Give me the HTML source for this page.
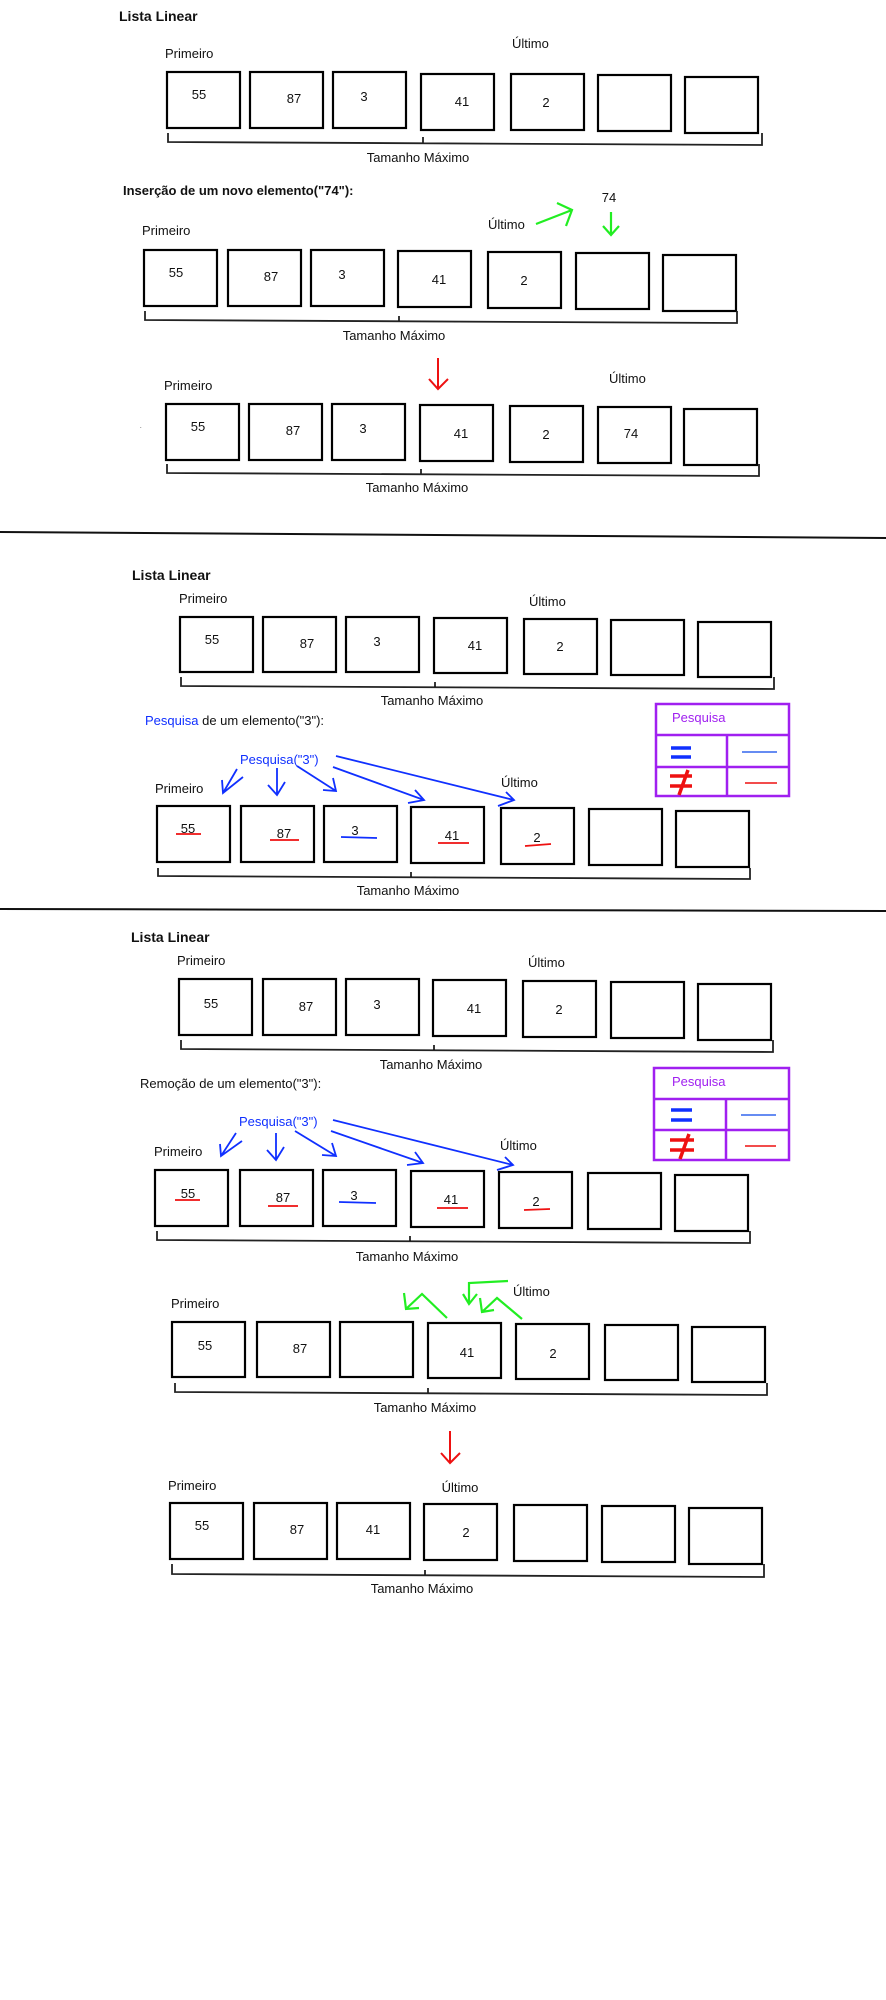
<!DOCTYPE html>
<html><head><meta charset="utf-8"><style>
html,body{margin:0;padding:0;background:#fff;}
svg{display:block;}
text{font-family:"Liberation Sans",sans-serif;font-size:13px;fill:#111;}
.b{font-weight:bold;}
.c{text-anchor:middle;}
rect{fill:none;stroke:#000;stroke-width:2.2;}
.br{fill:none;stroke:#222;stroke-width:1.8;}
.bl{fill:none;stroke:#1030ff;stroke-width:1.8;}
.gr{fill:none;stroke:#22ee22;stroke-width:2.2;}
.rd{fill:none;stroke:#ee1111;stroke-width:2;}
.pu{fill:none;stroke:#a020f0;stroke-width:2.5;}
</style></head><body>
<svg width="886" height="2000" viewBox="0 0 886 2000" xmlns="http://www.w3.org/2000/svg">
<!-- Section 1 -->
<text x="119" y="21" class="b" style="font-size:14px">Lista Linear</text>
<text x="165" y="58">Primeiro</text>
<text x="512" y="48">Último</text>
<rect x="167" y="72" width="73" height="56"/><rect x="250" y="72" width="73" height="56"/><rect x="333" y="72" width="73" height="56"/><rect x="421" y="74" width="73" height="56"/><rect x="511" y="74" width="73" height="56"/><rect x="598" y="75" width="73" height="56"/><rect x="685" y="77" width="73" height="56"/>
<text x="199" y="99" class="c">55</text><text x="294" y="103" class="c">87</text><text x="364" y="101" class="c">3</text><text x="462" y="106" class="c">41</text><text x="546" y="107" class="c">2</text>
<path class="br" d="M168 133 V142 L762 145 V133 M423 144 V137"/>
<text x="418" y="162" class="c">Tamanho Máximo</text>

<text x="123" y="195" class="b" style="font-size:13px">Inserção de um novo elemento("74"):</text>
<text x="609" y="202" class="c">74</text>
<text x="488" y="229">Último</text>
<text x="142" y="235">Primeiro</text>
<path class="gr" d="M536 224 L572 210 M557 203 L572 210 L566 226 M611 212 V234 M603 226 L611 235 L619 226"/>
<rect x="144" y="250" width="73" height="56"/><rect x="228" y="250" width="73" height="56"/><rect x="311" y="250" width="73" height="56"/><rect x="398" y="251" width="73" height="56"/><rect x="488" y="252" width="73" height="56"/><rect x="576" y="253" width="73" height="56"/><rect x="663" y="255" width="73" height="56"/>
<text x="176" y="277" class="c">55</text><text x="271" y="281" class="c">87</text><text x="342" y="279" class="c">3</text><text x="439" y="284" class="c">41</text><text x="524" y="285" class="c">2</text>
<path class="br" d="M145 311 V320 L737 323 V311 M399 322 V316"/>
<text x="394" y="340" class="c">Tamanho Máximo</text>

<path class="rd" d="M438 358 V389 M429 379 L438 389 L448 379"/>
<text x="164" y="390">Primeiro</text>
<text x="609" y="383">Último</text>
<text x="140" y="428" style="font-size:6px">.</text>
<rect x="166" y="404" width="73" height="56"/><rect x="249" y="404" width="73" height="56"/><rect x="332" y="404" width="73" height="56"/><rect x="420" y="405" width="73" height="56"/><rect x="510" y="406" width="73" height="56"/><rect x="598" y="407" width="73" height="56"/><rect x="684" y="409" width="73" height="56"/>
<text x="198" y="431" class="c">55</text><text x="293" y="435" class="c">87</text><text x="363" y="433" class="c">3</text><text x="461" y="438" class="c">41</text><text x="546" y="439" class="c">2</text><text x="631" y="438" class="c">74</text>
<path class="br" d="M167 464 V473 L759 476 V464 M421 475 V469"/>
<text x="417" y="492" class="c">Tamanho Máximo</text>

<path d="M0 532 L886 538" stroke="#111" stroke-width="2" fill="none"/>

<!-- Section 2 -->
<text x="132" y="580" class="b" style="font-size:14px">Lista Linear</text>
<text x="179" y="603">Primeiro</text>
<text x="529" y="606">Último</text>
<rect x="180" y="617" width="73" height="55"/><rect x="263" y="617" width="73" height="55"/><rect x="346" y="617" width="73" height="55"/><rect x="434" y="618" width="73" height="55"/><rect x="524" y="619" width="73" height="55"/><rect x="611" y="620" width="73" height="55"/><rect x="698" y="622" width="73" height="55"/>
<text x="212" y="644" class="c">55</text><text x="307" y="648" class="c">87</text><text x="377" y="646" class="c">3</text><text x="475" y="650" class="c">41</text><text x="560" y="651" class="c">2</text>
<path class="br" d="M181 677 V686 L774 689 V677 M435 688 V682"/>
<text x="432" y="705" class="c">Tamanho Máximo</text>

<text x="145" y="725"><tspan style="fill:#1030ff">Pesquisa</tspan> de um elemento("3"):</text>
<rect x="656" y="704" width="133" height="92" style="stroke:#a020f0;stroke-width:2.5"/>
<path class="pu" d="M656 735 H789 M656 767 H789 M727 735 V796"/>
<text x="672" y="722" style="fill:#a020f0">Pesquisa</text>
<path d="M671 748 H691 M671 757 H691" stroke="#1030ff" stroke-width="3.5"/>
<path d="M742 752 H777" stroke="#3366ee" stroke-width="1.5"/>
<path d="M670 776 H692 M670 786 H692 M688 770 L679 795" stroke="#ee1111" stroke-width="3.5"/>
<path d="M745 783 H777" stroke="#ee1111" stroke-width="1.5"/>
<text x="240" y="764" style="fill:#1030ff">Pesquisa("3")</text>
<text x="155" y="793">Primeiro</text>
<text x="501" y="787">Último</text>
<path class="bl" d="M237 769 L223 793 M222 780 L223 793 L243 777 M277 768 V795 M268 785 L277 795 L285 782 M297 766 L336 791 M333 778 L336 791 L323 790 M333 767 L424 800 M415 790 L424 800 L408 803 M336 756 L514 800 M506 792 L514 800 L498 806"/>
<rect x="157" y="806" width="73" height="56"/><rect x="241" y="806" width="73" height="56"/><rect x="324" y="806" width="73" height="56"/><rect x="411" y="807" width="73" height="56"/><rect x="501" y="808" width="73" height="56"/><rect x="589" y="809" width="73" height="56"/><rect x="676" y="811" width="73" height="56"/>
<text x="188" y="833" class="c">55</text><text x="284" y="838" class="c">87</text><text x="355" y="835" class="c">3</text><text x="452" y="840" class="c">41</text><text x="537" y="842" class="c">2</text>
<path class="rd" d="M176 834 H201 M270 840 H299 M438 843 H469 M525 846 L551 844" style="stroke-width:1.8"/>
<path d="M341 837 L377 838" stroke="#1030ff" stroke-width="1.8"/>
<path class="br" d="M158 868 V876 L750 879 V868 M411 878 V872"/>
<text x="408" y="895" class="c">Tamanho Máximo</text>

<path d="M0 909 L886 911" stroke="#111" stroke-width="2" fill="none"/>

<!-- Section 3 -->
<text x="131" y="942" class="b" style="font-size:14px">Lista Linear</text>
<text x="177" y="965">Primeiro</text>
<text x="528" y="967">Último</text>
<rect x="179" y="979" width="73" height="56"/><rect x="263" y="979" width="73" height="56"/><rect x="346" y="979" width="73" height="56"/><rect x="433" y="980" width="73" height="56"/><rect x="523" y="981" width="73" height="56"/><rect x="611" y="982" width="73" height="56"/><rect x="698" y="984" width="73" height="56"/>
<text x="211" y="1008" class="c">55</text><text x="306" y="1011" class="c">87</text><text x="377" y="1009" class="c">3</text><text x="474" y="1013" class="c">41</text><text x="559" y="1014" class="c">2</text>
<path class="br" d="M181 1040 V1049 L773 1052 V1040 M434 1051 V1045"/>
<text x="431" y="1069" class="c">Tamanho Máximo</text>
<text x="140" y="1088">Remoção de um elemento("3"):</text>
<rect x="654" y="1068" width="135" height="92" style="stroke:#a020f0;stroke-width:2.5"/>
<path class="pu" d="M654 1099 H789 M654 1130 H789 M726 1099 V1160"/>
<text x="672" y="1086" style="fill:#a020f0">Pesquisa</text>
<path d="M671 1110 H692 M671 1120 H692" stroke="#1030ff" stroke-width="3.5"/>
<path d="M741 1115 H776" stroke="#3366ee" stroke-width="1.5"/>
<path d="M670 1140 H694 M670 1150 H694 M689 1134 L680 1159" stroke="#ee1111" stroke-width="3.5"/>
<path d="M745 1146 H776" stroke="#ee1111" stroke-width="1.5"/>
<text x="239" y="1126" style="fill:#1030ff">Pesquisa("3")</text>
<text x="154" y="1156">Primeiro</text>
<text x="500" y="1150">Último</text>
<path class="bl" d="M236 1133 L221 1156 M220 1144 L221 1156 L242 1141 M276 1133 V1160 M267 1150 L276 1160 L284 1147 M295 1131 L336 1156 M332 1143 L336 1156 L322 1155 M331 1131 L423 1163 M415 1152 L423 1163 L407 1165 M333 1120 L513 1165 M505 1157 L513 1165 L497 1170"/>
<rect x="155" y="1170" width="73" height="56"/><rect x="240" y="1170" width="73" height="56"/><rect x="323" y="1170" width="73" height="56"/><rect x="411" y="1171" width="73" height="56"/><rect x="499" y="1172" width="73" height="56"/><rect x="588" y="1173" width="73" height="56"/><rect x="675" y="1175" width="73" height="56"/>
<text x="188" y="1198" class="c">55</text><text x="283" y="1202" class="c">87</text><text x="354" y="1200" class="c">3</text><text x="451" y="1204" class="c">41</text><text x="536" y="1206" class="c">2</text>
<path class="rd" d="M175 1200 H200 M268 1206 H298 M437 1208 H468 M524 1210 L550 1209" style="stroke-width:1.8"/>
<path d="M339 1202 L376 1203" stroke="#1030ff" stroke-width="1.8"/>
<path class="br" d="M157 1231 V1240 L750 1243 V1231 M410 1242 V1236"/>
<text x="407" y="1261" class="c">Tamanho Máximo</text>

<text x="171" y="1308">Primeiro</text>
<text x="513" y="1296">Último</text>
<path class="gr" d="M447 1318 L422 1294 L407 1308 M404 1293 L406 1309 L419 1308 M522 1319 L497 1298 L482 1312 M480 1298 L482 1312 L494 1310 M508 1281 L469 1283 V1303 M463 1294 L469 1304 L477 1294"/>
<rect x="172" y="1322" width="73" height="55"/><rect x="257" y="1322" width="73" height="55"/><rect x="340" y="1322" width="73" height="55"/><rect x="428" y="1323" width="73" height="55"/><rect x="516" y="1324" width="73" height="55"/><rect x="605" y="1325" width="73" height="55"/><rect x="692" y="1327" width="73" height="55"/>
<text x="205" y="1350" class="c">55</text><text x="300" y="1353" class="c">87</text><text x="467" y="1357" class="c">41</text><text x="553" y="1358" class="c">2</text>
<path class="br" d="M175 1383 V1392 L767 1395 V1383 M428 1394 V1388"/>
<text x="425" y="1412" class="c">Tamanho Máximo</text>

<path class="rd" d="M450 1431 V1463 M441 1453 L450 1463 L460 1453"/>
<text x="168" y="1490">Primeiro</text>
<text x="460" y="1492" class="c">Último</text>
<rect x="170" y="1503" width="73" height="56"/><rect x="254" y="1503" width="73" height="56"/><rect x="337" y="1503" width="73" height="56"/><rect x="424" y="1504" width="73" height="56"/><rect x="514" y="1505" width="73" height="56"/><rect x="602" y="1506" width="73" height="56"/><rect x="689" y="1508" width="73" height="56"/>
<text x="202" y="1530" class="c">55</text><text x="297" y="1534" class="c">87</text><text x="373" y="1534" class="c">41</text><text x="466" y="1537" class="c">2</text>
<path class="br" d="M172 1564 V1574 L764 1577 V1564 M425 1576 V1570"/>
<text x="422" y="1593" class="c">Tamanho Máximo</text>
</svg>
</body></html>
